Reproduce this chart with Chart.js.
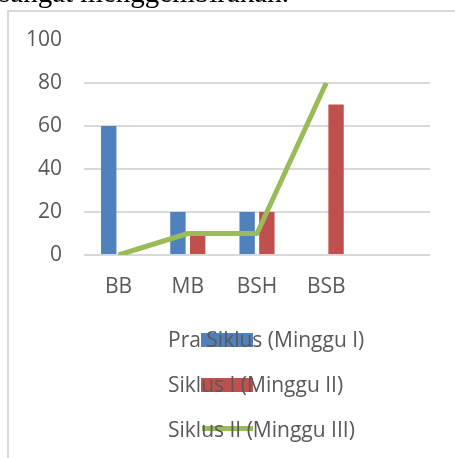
<!DOCTYPE html>
<html>
<head>
<meta charset="utf-8">
<script src="https://cdn.jsdelivr.net/npm/chart.js@4"></script>
<style>
  html, body { margin: 0; padding: 0; background: #fff; }
  #wrap { position: relative; width: 455px; height: 458px; }
</style>
</head>
<body>
<div id="wrap"><canvas id="myChart"></canvas></div>
<script>
// categories (last slot left empty)
let kategori = ['BB', 'MB', 'BSH', 'BSB', ''];
let praSiklus = [60, 20, 20, 0, null];
let siklus1 = [0, 10, 20, 70, null];
let siklus2 = [0, 10, 10, 80, null];
let yTicks = [0, 20, 40, 60, 80, 100];

const gray = '#595959';
const gridGray = '#d9d9d9';
const labelFont = { family: 'Open Sans', size: 21 };

// caption line above the frame + frame border
const framePlugin = {
  id: 'frame',
  beforeDraw(chart) {
    const c = chart.ctx;
    c.save();
    c.fillStyle = '#000';
    c.font = '29px "Liberation Serif"';
    c.textBaseline = 'alphabetic';
    c.fillText('sangat menggembirakan.', -1, 2);
    c.strokeStyle = gridGray;
    c.lineWidth = 2;
    c.beginPath();
    c.moveTo(8, 458);
    c.lineTo(8, 11);
    c.lineTo(455, 11);
    c.stroke();
    c.restore();
  }
};

// legend rows: symbol first, text drawn over it
const legendPlugin = {
  id: 'legendRows',
  afterDraw(chart) {
    const c = chart.ctx;
    const rows = [347, 392, 437];
    const order = [1, 2, 0];
    c.save();
    order.forEach((di, i) => {
      const ds = chart.data.datasets[di];
      const base = rows[i];
      if (ds.type === 'line') {
        c.strokeStyle = ds.borderColor;
        c.lineWidth = 5;
        c.beginPath();
        c.moveTo(202, base - 8.5);
        c.lineTo(253, base - 8.5);
        c.stroke();
      } else {
        c.fillStyle = ds.backgroundColor;
        c.fillRect(201, base - 14, 52, 14);
      }
      c.fillStyle = gray;
      c.font = '21px "Open Sans"';
      c.textBaseline = 'alphabetic';
      c.fillText(ds.label, 168, base);
    });
    c.restore();
  }
};

var ctx = document.getElementById('myChart');
var myChart = new Chart(ctx, {
  type: 'bar',
  data: {
    labels: kategori,
    datasets: [
      {
        type: 'line',
        label: 'Siklus II (Minggu III)',
        data: siklus2,
        borderColor: '#9bbb59',
        borderWidth: 5,
        pointRadius: 0,
        borderJoinStyle: 'round',
        tension: 0,
        order: 0
      },
      {
        label: 'Pra Siklus (Minggu I)',
        data: praSiklus,
        backgroundColor: '#4f81bd',
        categoryPercentage: 0.57,
        barPercentage: 0.78,
        order: 1
      },
      {
        label: 'Siklus I (Minggu II)',
        data: siklus1,
        backgroundColor: '#c0504d',
        categoryPercentage: 0.57,
        barPercentage: 0.78,
        order: 1
      }
    ]
  },
  options: {
    responsive: true,
    maintainAspectRatio: false,
    animation: false,
    layout: { padding: { top: 40, right: 25, left: 0, bottom: 0 } },
    plugins: {
      legend: { display: false },
      tooltip: { enabled: false }
    },
    scales: {
      x: {
        grid: { display: false, drawTicks: false },
        border: { display: false },
        ticks: { font: labelFont, color: gray, padding: 19, maxRotation: 0 },
        afterFit: s => { s.height = 203; }
      },
      y: {
        min: 0,
        max: 100,
        afterBuildTicks: s => { s.ticks = yTicks.map(v => ({ value: v })); },
        grid: {
          drawTicks: false,
          lineWidth: 2,
          color: c => (c.tick && c.tick.value === 100) ? 'rgba(0,0,0,0)' : gridGray
        },
        border: { display: false },
        ticks: { font: labelFont, color: gray, padding: 22 },
        afterFit: s => { s.width = 84; }
      }
    }
  },
  plugins: [framePlugin, legendPlugin]
});
</script>
</body>
</html>
